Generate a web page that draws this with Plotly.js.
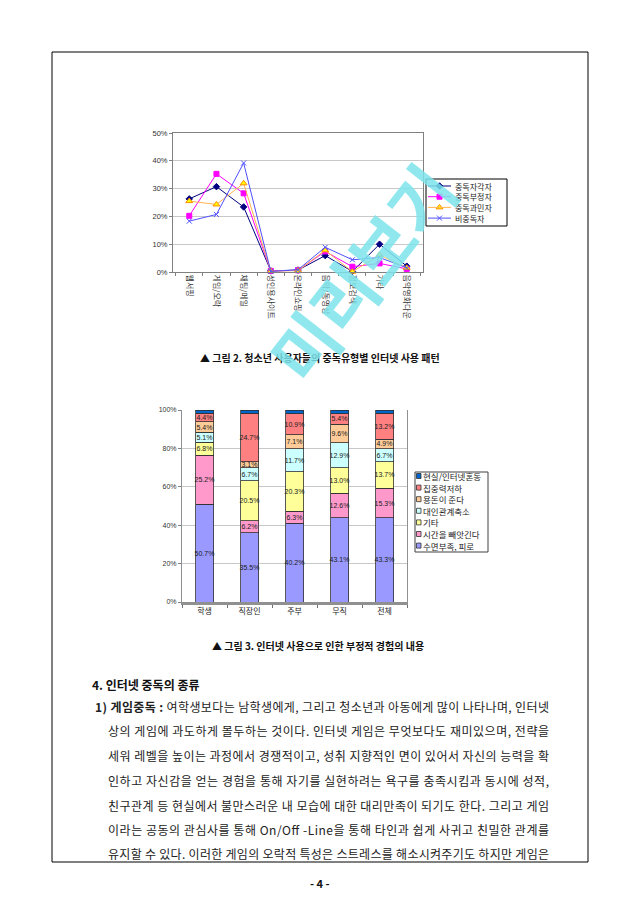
<!DOCTYPE html>
<html><head><meta charset="utf-8">
<script src="https://cdn.plot.ly/plotly-3.0.1.min.js"></script>
<style>html,body{margin:0;padding:0;background:#fff;}#chart{width:640px;height:905px;}</style>
</head><body><div id="chart"></div>
<script>
// ---- Figure 2: line chart data ----
const lineCats = ['웹서핑','게임/오락','채팅/메일','성인용사이트','온라인쇼핑','음악/동영상','정보검색','기타','음악영화다운'];
const selfAware = [26.3, 30.7, 23.4, 0.4, 0.7, 5.9, 0.2, 10.0, 2.1];   // 중독자각자
const denying   = [20.2, 35.3, 28.3, 0.4, 0.6, 7.4, 1.9, 3.1, 1.1];   // 중독부정자
const oversens  = [25.5, 24.3, 31.9, 0.3, 0.5, 7.8, 0.1, 6.1, 1.5];   // 중독과민자
const nonAddict = [18.3, 20.7, 39.2, 0.2, 0.8, 8.9, 4.4, 5.2, 1.5];   // 비중독자
const lineNames = ['중독자각자','중독부정자','중독과민자','비중독자'];

// ---- Figure 3: stacked bar data ----
const barCats   = ['학생','직장인','주부','무직','전체'];
const sleepLoss = [50.7, 35.5, 40.2, 43.1, 43.3];  // 수면부족, 피로
const timeLoss  = [25.2, 6.2, 6.3, 12.6, 15.3];    // 시간을 빼앗긴다
const etcVals   = [6.8, 20.5, 20.3, 13.0, 13.7];   // 기타
const socialVal = [5.1, 6.7, 11.7, 12.9, 6.7];     // 대인관계축소
const moneyVal  = [5.4, 3.1, 7.1, 9.6, 4.9];       // 용돈이 준다
const focusVal  = [4.4, 24.7, 10.9, 5.4, 13.2];    // 집중력저하
const confusion = [1.8, 1.7, 1.8, 1.8, 1.8];       // 현실/인터넷혼동
const barNames  = ['수면부족, 피로','시간을 빼앗긴다','기타','대인관계축소','용돈이 준다','집중력저하','현실/인터넷혼동'];

// ---- page text ----
const caption2 = '▲ 그림 2. 청소년 사용자들의 중독유형별 인터넷 사용 패턴';
const caption3 = '▲ 그림 3. 인터넷 사용으로 인한 부정적 경험의 내용';
const heading = '4. 인터넷 중독의 종류';
const bodyLines = [
  '<b>1) 게임중독 :</b> 여학생보다는 남학생에게, 그리고 청소년과 아동에게 많이 나타나며, 인터넷',
  '상의 게임에 과도하게 몰두하는 것이다. 인터넷 게임은 무엇보다도 재미있으며, 전략을',
  '세워 레벨을 높이는 과정에서 경쟁적이고, 성취 지향적인 면이 있어서 자신의 능력을 확',
  '인하고 자신감을 얻는 경험을 통해 자기를 실현하려는 욕구를 충족시킴과 동시에 성적,',
  '친구관계 등 현실에서 불만스러운 내 모습에 대한 대리만족이 되기도 한다. 그리고 게임',
  '이라는 공동의 관심사를 통해 On/Off -Line을 통해 타인과 쉽게 사귀고 친밀한 관계를',
  '유지할 수 있다. 이러한 게임의 오락적 특성은 스트레스를 해소시켜주기도 하지만 게임은'
];
const pageNo = '- 4 -';
const watermark = '미리보기';

const W = 640, H = 905;
const px = x => x / W, py = y => 1 - y / H;
const FONT = '"Noto Sans CJK KR", "Noto Sans", sans-serif';
const NUMFONT = 'Arial, "Liberation Sans", sans-serif';

const traces = [];
const shapes = [];
const annotations = [];

// ---- line chart ----
const lineStyles = [
  {color:'#000080', symbol:'diamond', size:5, lc:'#000080'},
  {color:'#FF00FF', symbol:'square', size:5, lc:'#FF00FF'},
  {color:'#FFFF00', symbol:'triangle-up', size:6, lc:'#FFB450', edge:'#FF8C00'},
  {color:'#5050FF', symbol:'x-thin-open', size:5, lc:'#5050FF'}
];
const lineSeries = [selfAware, denying, oversens, nonAddict];
lineSeries.forEach((vals, i) => {
  const s = lineStyles[i];
  traces.push({
    type:'scatter', mode:'lines+markers', x: lineCats, y: vals, name: lineNames[i],
    xaxis:'x', yaxis:'y', cliponaxis:false, showlegend:false,
    line:{color:s.lc, width:1},
    marker:{symbol:s.symbol, size:s.size, color:s.color, line:{color:s.edge || s.color, width:1}}
  });
});

// ---- stacked bars ----
const barColors = ['#9999FF','#FF99CC','#FFFF99','#CCFFFF','#FFCC99','#FF8080','#0066CC'];
const barSeries = [sleepLoss, timeLoss, etcVals, socialVal, moneyVal, focusVal, confusion];
barSeries.forEach((vals, i) => {
  const isLast = i === barSeries.length - 1;
  traces.push({
    type:'bar', x: barCats, y: vals, name: barNames[i], xaxis:'x2', yaxis:'y2', showlegend:false,
    marker:{color: barColors[i], line:{color:'#303030', width:0.8}},
    text: isLast ? vals.map(() => '') : vals.map(v => v.toFixed(1) + '%'),
    textposition:'inside', insidetextanchor:'middle', textangle:0,
    textfont:{size:7, color:'#202020', family:NUMFONT},
    hoverinfo:'skip'
  });
});

// ---- custom legend 1 (line chart), markers drawn in a page-pixel overlay axis ----
const lg1 = {x0:426, x1:507, y0:179, y1:226, first:186, step:10.7};
shapes.push({type:'rect', xref:'paper', yref:'paper', x0:px(lg1.x0), x1:px(lg1.x1), y0:py(lg1.y1), y1:py(lg1.y0),
  line:{color:'#000', width:1}, fillcolor:'#fff', layer:'below'});
lineNames.forEach((nm, i) => {
  const yy = lg1.first + i * lg1.step;
  const s = lineStyles[i];
  shapes.push({type:'line', xref:'paper', yref:'paper', x0:px(428), x1:px(451), y0:py(yy), y1:py(yy), line:{color:s.lc, width:1}});
  traces.push({type:'scatter', mode:'markers', x:[439.5], y:[yy], xaxis:'x3', yaxis:'y3', showlegend:false, cliponaxis:false,
    hoverinfo:'skip', marker:{symbol:s.symbol, size:s.size, color:s.color, line:{color:s.edge || s.color, width:1}}});
  annotations.push({text:nm, x:px(452.5), y:py(yy), xref:'paper', yref:'paper', showarrow:false, xanchor:'left', yanchor:'middle',
    font:{size:8, family:FONT, color:'#222'}});
});

// ---- custom legend 2 (bar chart) ----
const lg2 = {x0:415, x1:488, y0:472, y1:552, first:476, step:11.6};
shapes.push({type:'rect', xref:'paper', yref:'paper', x0:px(lg2.x0), x1:px(lg2.x1), y0:py(lg2.y1), y1:py(lg2.y0),
  line:{color:'#404040', width:1}, fillcolor:'#fff', layer:'below'});
barNames.slice().reverse().forEach((nm, j) => {
  const i = barNames.length - 1 - j;
  const yy = lg2.first + j * lg2.step;
  shapes.push({type:'rect', xref:'paper', yref:'paper', x0:px(416.5), x1:px(421), y0:py(yy + 2.5), y1:py(yy - 2.5),
    fillcolor:barColors[i], line:{color:'#303030', width:0.8}});
  annotations.push({text:nm, x:px(421), y:py(yy), xref:'paper', yref:'paper', showarrow:false, xanchor:'left', yanchor:'middle',
    font:{size:8.5, family:FONT, color:'#222'}});
});

// ---- page texts ----
annotations.push(
  {text: caption2, x: px(320), y: py(357), xref:'paper', yref:'paper', showarrow:false, xanchor:'center', yanchor:'middle', font:{size:10, family:FONT, color:'#111', weight:700}},
  {text: caption3, x: px(318), y: py(645), xref:'paper', yref:'paper', showarrow:false, xanchor:'center', yanchor:'middle', font:{size:10, family:FONT, color:'#111', weight:700}},
  {text: '<b>' + heading + '</b>', x: px(90), y: py(684), xref:'paper', yref:'paper', showarrow:false, xanchor:'left', yanchor:'middle', font:{size:12, family:FONT, color:'#111'}},
  {text: '<b>' + pageNo + '</b>', x: px(320), y: py(883), xref:'paper', yref:'paper', showarrow:false, xanchor:'center', yanchor:'middle', font:{size:11, family:FONT, color:'#111'}}
);
const lineY = [706, 730, 755, 780, 805, 829, 853];
const bodyStart = annotations.length;
const bodyTargets = [];
bodyLines.forEach((t, i) => {
  const x0 = i === 0 ? 93 : 106;
  bodyTargets.push(547 - x0);
  annotations.push({text: t, x: px(x0), y: py(lineY[i]), xref:'paper', yref:'paper', showarrow:false, align:'left',
    xanchor:'left', yanchor:'middle', font:{size:12, family:FONT, color:'#222'}});
});
annotations.push({text:'<b>' + watermark + '</b>', x: px(361), y: py(272), xref:'paper', yref:'paper', showarrow:false,
  xanchor:'center', yanchor:'middle', textangle:-52, font:{size:68, family:FONT, color:'rgba(125,228,235,0.85)'}});

shapes.push({type:'rect', xref:'paper', yref:'paper', x0:px(52), x1:px(588), y0:py(862), y1:py(52), line:{color:'#000', width:1}});

const layout = {
  width: W, height: H, margin:{l:0, r:0, t:0, b:0}, paper_bgcolor:'#fff', plot_bgcolor:'rgba(0,0,0,0)',
  showlegend:false, barmode:'stack', barnorm:'percent', bargap:0.6,
  uniformtext:{minsize:7, mode:'show'},
  font:{family:FONT, size:8, color:'#222'},
  xaxis:{domain:[px(173), px(423)], anchor:'y', type:'category', tickson:'boundaries', ticks:'outside', ticklen:3,
    tickcolor:'#808080', showline:true, linecolor:'#808080', mirror:true, showgrid:false,
    tickangle:90, tickfont:{size:8, family:FONT, color:'#333'}, fixedrange:true},
  yaxis:{domain:[py(272), py(133)], anchor:'x', range:[0,50], dtick:10, ticksuffix:'%', showline:true, linecolor:'#808080', mirror:true,
    ticks:'outside', ticklen:3, tickcolor:'#808080', gridcolor:'#C8C8C8', gridwidth:1, zeroline:false,
    tickfont:{size:7.5, family:NUMFONT, color:'#333'}, fixedrange:true},
  xaxis2:{domain:[px(182), px(407)], anchor:'y2', type:'category', showline:true, linecolor:'#909090', linewidth:2.5,
    tickson:'boundaries', ticks:'outside', ticklen:3, tickcolor:'#707070', showgrid:false,
    tickfont:{size:8, family:FONT, color:'#222'}, fixedrange:true},
  yaxis2:{domain:[py(602), py(410)], anchor:'x2', range:[0,100], dtick:20, ticksuffix:'%', showline:true, linecolor:'#909090', mirror:true,
    ticks:'outside', ticklen:3, tickcolor:'#808080', gridcolor:'#C8C8C8', zeroline:false,
    tickfont:{size:7, family:NUMFONT, color:'#333'}, fixedrange:true},
  xaxis3:{domain:[0,1], anchor:'y3', range:[0, W], visible:false, fixedrange:true},
  yaxis3:{domain:[0,1], anchor:'x3', range:[H, 0], visible:false, fixedrange:true},
  shapes: shapes,
  annotations: annotations
};

Plotly.newPlot('chart', traces, layout, {staticPlot:true, displayModeBar:false}).then(gd => {
  // justify body lines (the source document is fully justified)
  bodyTargets.forEach((w, k) => {
    const g = gd.querySelector('.annotation[data-index="' + (bodyStart + k) + '"]');
    if (!g) return;
    const t = g.querySelector('text.annotation-text');
    if (!t) return;
    const nat = t.getComputedTextLength();
    if (nat < w) { t.setAttribute('textLength', w); t.setAttribute('lengthAdjust', 'spacing'); }
  });
});
</script>
</body></html>
